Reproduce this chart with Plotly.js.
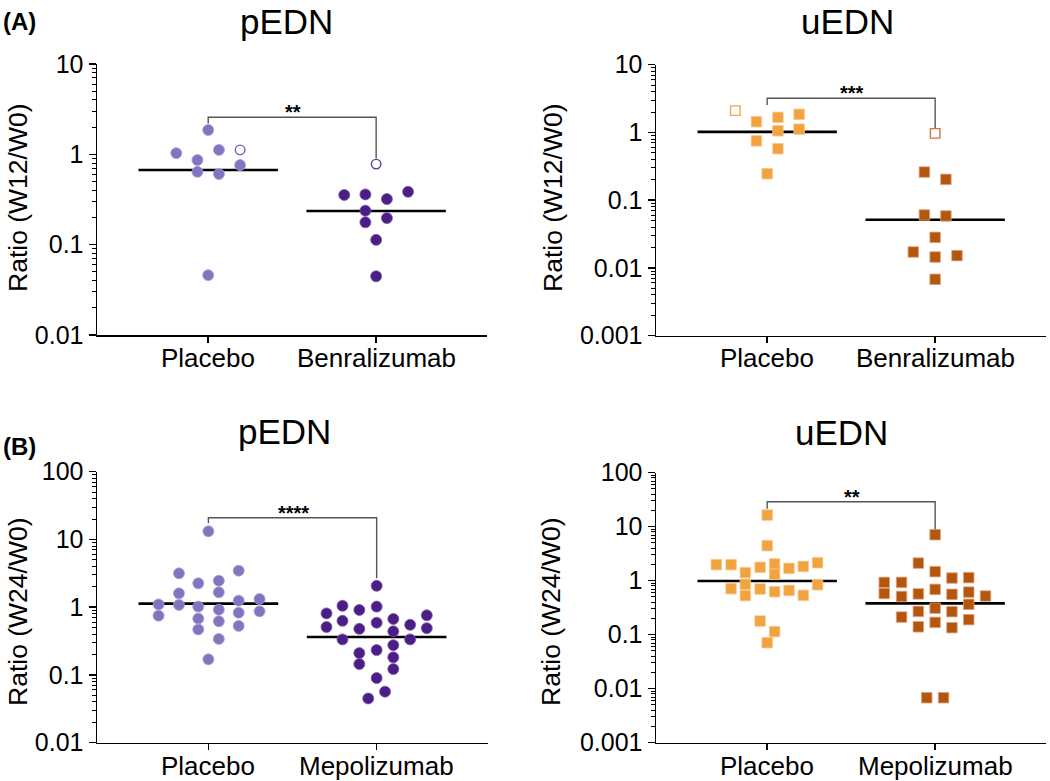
<!DOCTYPE html>
<html>
<head>
<meta charset="utf-8">
<script src="https://cdn.plot.ly/plotly-3.0.1.min.js"></script>
<style>html,body{margin:0;padding:0;background:#fff;}#chart{width:1050px;height:781px;}</style>
</head>
<body>
<div id="chart"></div>
<script>
// ---------- DATA ----------
const catsA = ['Placebo', 'Benralizumab'];
const catsB = ['Placebo', 'Mepolizumab'];
const panelTitles = ['pEDN', 'uEDN', 'pEDN', 'uEDN'];
const panelLetters = ['(A)', '(B)'];
const yTitleA = 'Ratio (W12/W0)';
const yTitleB = 'Ratio (W24/W0)';
const stars = ['**', '***', '****', '**'];

const tickVals2 = [0.01, 0.1, 1, 10];
const tickText2 = ['0.01', '0.1', '1', '10'];
const tickVals3 = [0.001, 0.01, 0.1, 1, 10];
const tickText3 = ['0.001', '0.01', '0.1', '1', '10'];
const tickVals4 = [0.01, 0.1, 1, 10, 100];
const tickText4 = ['0.01', '0.1', '1', '10', '100'];
const tickVals5 = [0.001, 0.01, 0.1, 1, 10, 100];
const tickText5 = ['0.001', '0.01', '0.1', '1', '10', '100'];

// Panel A - pEDN
const pA_plc = [1.86, 1.03, 0.865, 1.12, 0.76, 0.64, 0.605, 0.046];
const pA_plc_off = [0, -0.19, -0.064, 0.064, 0.19, -0.064, 0.064, 0];
const pA_plc_open = [1.12];
const pA_plc_open_off = [0.19];
const pA_trt = [0.355, 0.36, 0.32, 0.385, 0.238, 0.197, 0.177, 0.113, 0.0447];
const pA_trt_off = [-0.19, -0.064, 0.064, 0.19, -0.064, 0.064, -0.064, 0, 0];
const pA_trt_open = [0.78];
const pA_trt_open_off = [0];
const pA_med = [0.67, 0.236];
const pA_bracket = [2.2, 2.57, 0.9];

// Panel A - uEDN
const uA_plc = [1.44, 1.67, 1.85, 1.06, 1.12, 0.75, 0.575, 0.246];
const uA_plc_off = [-0.064, 0.064, 0.19, 0.064, 0.19, -0.064, 0.064, 0];
const uA_plc_open = [2.1];
const uA_plc_open_off = [-0.19];
const uA_trt = [0.26, 0.203, 0.0605, 0.0585, 0.0283, 0.0172, 0.0145, 0.0152, 0.0068];
const uA_trt_off = [-0.064, 0.064, -0.064, 0.064, 0, -0.13, 0, 0.13, 0];
const uA_trt_open = [0.97];
const uA_trt_open_off = [0];
const uA_med = [1.02, 0.0515];
const uA_bracket = [2.54, 3.19, 1.15];

// Panel B - pEDN
const pB_plc = [13.2, 3.16, 3.46, 2.25, 2.46, 1.6, 1.66, 1.1, 1.08, 1.02, 1.25, 1.32, 0.92, 0.75, 0.83, 0.87, 0.68, 0.62, 0.53, 0.47, 0.34, 0.17];
const pB_plc_off = [0, -0.175, 0.18, -0.06, 0.062, -0.175, 0.062, -0.296, -0.175, -0.06, 0.18, 0.304, 0.062, -0.296, 0.18, 0.304, -0.06, 0.062, 0.18, -0.06, 0.062, 0];
const pB_trt = [2.07, 1.05, 1.02, 0.81, 0.91, 0.76, 0.63, 0.59, 0.67, 0.51, 0.48, 0.55, 0.49, 0.44, 0.335, 0.335, 0.275, 0.21, 0.233, 0.182, 0.145, 0.122, 0.09, 0.0566, 0.045];
const pB_trt_off = [0, -0.203, 0, -0.298, -0.103, 0.298, -0.203, 0, 0.099, -0.298, -0.103, 0.199, 0.298, 0.099, -0.203, 0.199, 0.099, -0.103, 0, 0.099, -0.103, 0.099, 0, 0.05, -0.05];
const pB_med = [1.13, 0.363];
const pB_bracket = [17.3, 20.9, 2.67];

// Panel B - uEDN
const uB_plc = [16.4, 4.45, 1.98, 1.98, 1.41, 1.77, 2.04, 1.31, 1.69, 1.84, 2.15, 0.855, 0.84, 0.71, 0.70, 0.625, 0.66, 0.53, 0.535, 0.179, 0.114, 0.071];
const uB_plc_off = [0, 0, -0.303, -0.215, -0.13, -0.042, 0.044, 0.044, 0.13, 0.215, 0.30, -0.13, 0.30, -0.215, -0.042, 0.044, 0.13, -0.13, 0.215, -0.042, 0.044, 0];
const uB_trt = [7.1, 2.12, 1.47, 0.93, 0.93, 1.12, 1.14, 0.58, 0.51, 0.57, 0.69, 0.56, 0.615, 0.52, 0.365, 0.31, 0.27, 0.267, 0.212, 0.19, 0.14, 0.169, 0.135, 0.0068, 0.0068];
const uB_trt_off = [0, -0.1, 0, -0.303, -0.2, 0.1, 0.2, -0.303, -0.2, -0.1, 0, 0.1, 0.2, 0.3, 0.2, 0, -0.1, 0.1, -0.2, 0.2, -0.1, 0, 0.1, -0.05, 0.05];
const uB_med = [0.987, 0.38];
const uB_bracket = [21.5, 29, 7.7];

// ---------- STYLE ----------
const FONT = 'Arial, "Liberation Sans", Helvetica, sans-serif';
const cLightPurple = '#8474c0';
const cDarkPurple = '#4b1e87';
const cLightOrange = '#f1a33e';
const cDarkOrange = '#b4560c';
const W = 1050, H = 781;
const px = v => v / W;
const py = v => 1 - v / H;

const traces = [];
function addPoints(ax, vals, offs, center, symbol, color, edge) {
  traces.push({
    type: 'scatter', mode: 'markers', xaxis: 'x' + ax, yaxis: 'y' + ax,
    x: vals.map((v, i) => center + offs[i]), y: vals,
    marker: { symbol: symbol, size: symbol === 'circle' ? 11 : 10.5, color: color,
      line: { color: edge, width: 0.8 } },
    hoverinfo: 'y', showlegend: false, cliponaxis: false
  });
}
function addOpen(ax, vals, offs, center, symbol, color) {
  traces.push({
    type: 'scatter', mode: 'markers', xaxis: 'x' + ax, yaxis: 'y' + ax,
    x: vals.map((v, i) => center + offs[i]), y: vals,
    marker: { symbol: symbol, size: 9.5, color: color,
      line: { color: color, width: 1.4 } },
    hoverinfo: 'y', showlegend: false, cliponaxis: false
  });
}
function addMedians(ax, med) {
  med.forEach((m, i) => {
    traces.push({
      type: 'scatter', mode: 'lines', xaxis: 'x' + ax, yaxis: 'y' + ax,
      x: [i - 0.415, i + 0.415], y: [m, m],
      line: { color: '#000', width: 2.6 }, hoverinfo: 'skip', showlegend: false
    });
  });
}
function addBracket(ax, b) {
  traces.push({
    type: 'scatter', mode: 'lines', xaxis: 'x' + ax, yaxis: 'y' + ax,
    x: [0, 0, 1, 1], y: [b[0], b[1], b[1], b[2]],
    line: { color: '#555', width: 1.4 }, hoverinfo: 'skip', showlegend: false
  });
}

// Panel 1 (A pEDN)
addBracket('', pA_bracket);
addMedians('', pA_med);
addPoints('', pA_plc, pA_plc_off, 0, 'circle', cLightPurple, '#a9a0d6');
addOpen('', pA_plc_open, pA_plc_open_off, 0, 'circle-open', '#6c5cb4');
addPoints('', pA_trt, pA_trt_off, 1, 'circle', cDarkPurple, '#7a5aa8');
addOpen('', pA_trt_open, pA_trt_open_off, 1, 'circle-open', '#5a3c98');
// Panel 2 (A uEDN)
addBracket('2', uA_bracket);
addMedians('2', uA_med);
addPoints('2', uA_plc, uA_plc_off, 0, 'square', cLightOrange, '#f7c690');
addOpen('2', uA_plc_open, uA_plc_open_off, 0, 'square-open', '#f0a850');
addPoints('2', uA_trt, uA_trt_off, 1, 'square', cDarkOrange, '#e0a080');
addOpen('2', uA_trt_open, uA_trt_open_off, 1, 'square-open', '#d2724a');
// Panel 3 (B pEDN)
addBracket('3', pB_bracket);
addMedians('3', pB_med);
addPoints('3', pB_plc, pB_plc_off, 0, 'circle', cLightPurple, '#a9a0d6');
addPoints('3', pB_trt, pB_trt_off, 1, 'circle', cDarkPurple, '#7a5aa8');
// Panel 4 (B uEDN)
addBracket('4', uB_bracket);
addMedians('4', uB_med);
addPoints('4', uB_plc, uB_plc_off, 0, 'square', cLightOrange, '#f7c690');
addPoints('4', uB_trt, uB_trt_off, 1, 'square', cDarkOrange, '#e0a080');

function xaxis(domain, anchor) {
  return {
    domain: domain, anchor: anchor, range: [-0.662, 1.66], showgrid: false, zeroline: false,
    showline: true, linecolor: '#000', linewidth: 1.5,
    ticks: 'outside', ticklen: 6, tickwidth: 1.5, tickcolor: '#000',
    tickvals: [0, 1], showticklabels: false, fixedrange: true
  };
}
function yaxis(domain, range, tv, tt, anchor) {
  return {
    domain: domain, anchor: anchor, type: 'log', range: range, showgrid: false, zeroline: false,
    showline: true, linecolor: '#000', linewidth: 1.5,
    ticks: 'outside', ticklen: 7, tickwidth: 1.5, tickcolor: '#000',
    tickvals: tv, ticktext: tt, ticklabelstandoff: 0,
    minor: { ticks: 'outside', ticklen: 4, tickwidth: 1, tickcolor: '#000', dtick: 'D1', showgrid: false },
    tickfont: { family: FONT, size: 25, color: '#000' }, fixedrange: true
  };
}

const annotations = [];
function ann(text, x, y, size, bold, angle) {
  annotations.push({
    text: bold ? '<b>' + text + '</b>' : text, xref: 'paper', yref: 'paper',
    x: px(x), y: py(y), xanchor: 'center', yanchor: 'middle', showarrow: false,
    textangle: angle || 0, font: { family: FONT, size: size, color: '#000' }
  });
}
function catLabels(cats, xref, y) {
  cats.forEach((c, i) => {
    annotations.push({
      text: c, xref: xref, yref: 'paper', x: i, y: py(y),
      xanchor: 'center', yanchor: 'middle', showarrow: false,
      font: { family: FONT, size: 26, color: '#000' }
    });
  });
}
ann(panelTitles[0], 286, 22, 35);
ann(panelTitles[1], 847, 21, 35);
ann(panelTitles[2], 284, 431, 35);
ann(panelTitles[3], 841, 432, 35);
ann(panelLetters[0], 19, 21, 24, true);
ann(panelLetters[1], 19, 446, 24, true);
ann(yTitleA, 18, 198, 26.5, false, -90);
ann(yTitleA, 553, 198, 26.5, false, -90);
ann(yTitleB, 18, 612, 26.5, false, -90);
ann(yTitleB, 551, 612, 26.5, false, -90);
ann(stars[0], 293, 112, 20, true);
ann(stars[1], 852, 93, 20, true);
ann(stars[2], 293, 513, 20, true);
ann(stars[3], 852, 497, 20, true);
catLabels(catsA, 'x', 358);
catLabels(catsA, 'x2', 358);
catLabels(catsB, 'x3', 766);
catLabels(catsB, 'x4', 766);

const layout = {
  width: W, height: H, margin: { l: 0, r: 0, t: 0, b: 0 },
  paper_bgcolor: '#fff', plot_bgcolor: '#fff', showlegend: false,
  font: { family: FONT, color: '#000' },
  xaxis: xaxis([px(97), px(487)], 'y'),
  yaxis: yaxis([py(335), py(64)], [-2, 1], tickVals2, tickText2, 'x'),
  xaxis2: xaxis([px(656), px(1046)], 'y2'),
  yaxis2: yaxis([py(335.7), py(64.7)], [-3, 1], tickVals3, tickText3, 'x2'),
  xaxis3: xaxis([px(97), px(487.7)], 'y3'),
  yaxis3: yaxis([py(742.7), py(471.7)], [-2, 2], tickVals4, tickText4, 'x3'),
  xaxis4: xaxis([px(656), px(1046)], 'y4'),
  yaxis4: yaxis([py(742.7), py(472.7)], [-3, 2], tickVals5, tickText5, 'x4'),
  annotations: annotations
};

Plotly.newPlot('chart', traces, layout, { displayModeBar: false, staticPlot: true });
</script>
</body>
</html>
